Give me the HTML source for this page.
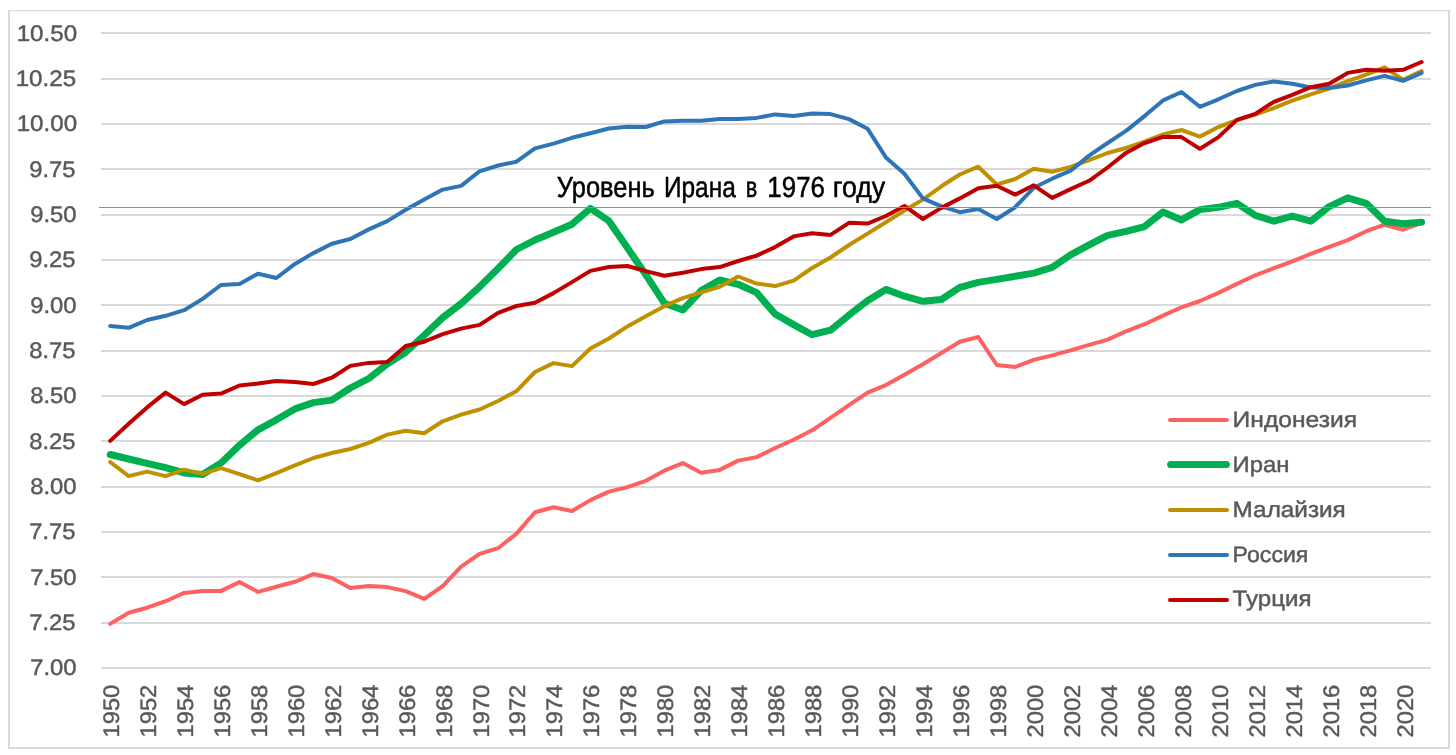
<!DOCTYPE html>
<html lang="ru"><head><meta charset="utf-8"><title>Уровень Ирана в 1976 году</title>
<style>
html,body{margin:0;padding:0;background:#fff;}
body{width:1456px;height:755px;overflow:hidden;font-family:"Liberation Sans", "DejaVu Sans", sans-serif;}
svg{display:block;}
text{font-family:"Liberation Sans", "DejaVu Sans", sans-serif;text-rendering:geometricPrecision;}
.ax{font-size:22.5px;fill:#595959;stroke:#595959;stroke-width:.45px;}
.lg{font-size:22.2px;fill:#595959;stroke:#595959;stroke-width:.45px;}
.note{font-size:29.1px;fill:#000;stroke:#000;stroke-width:.5px;}
.s{fill:none;stroke-linejoin:round;stroke-linecap:round;}
</style></head><body>
<svg width="1456" height="755" viewBox="0 0 1456 755">
<rect x="0" y="0" width="1456" height="755" fill="#fff"/>
<g fill="#d9d9d9">
<rect x="8" y="10" width="1442" height="1.2"/>
<rect x="8" y="747" width="1442" height="2"/>
<rect x="8" y="10" width="2" height="739"/>
<rect x="1448" y="10" width="2" height="739"/>
</g>

<g fill="#d9d9d9">
<rect x="101" y="32" width="1330" height="2"/>
<rect x="101" y="78" width="1330" height="2"/>
<rect x="101" y="123" width="1330" height="2"/>
<rect x="101" y="168" width="1330" height="2"/>
<rect x="101" y="214" width="1330" height="2"/>
<rect x="101" y="259" width="1330" height="2"/>
<rect x="101" y="304" width="1330" height="2"/>
<rect x="101" y="350" width="1330" height="2"/>
<rect x="101" y="395" width="1330" height="2"/>
<rect x="101" y="440" width="1330" height="2"/>
<rect x="101" y="486" width="1330" height="2"/>
<rect x="101" y="531" width="1330" height="2"/>
<rect x="101" y="576" width="1330" height="2"/>
<rect x="101" y="622" width="1330" height="2"/>
<rect x="101" y="667" width="1330" height="2"/>
</g>
<g class="ax" text-anchor="end">
<text x="77.1" y="40.7" textLength="60.4" lengthAdjust="spacingAndGlyphs">10.50</text>
<text x="76.1" y="86.0" textLength="60.4" lengthAdjust="spacingAndGlyphs">10.25</text>
<text x="77.1" y="131.3" textLength="60.4" lengthAdjust="spacingAndGlyphs">10.00</text>
<text x="75.5" y="176.7" textLength="46.3" lengthAdjust="spacingAndGlyphs">9.75</text>
<text x="76.5" y="222.0" textLength="46.3" lengthAdjust="spacingAndGlyphs">9.50</text>
<text x="75.5" y="267.3" textLength="46.3" lengthAdjust="spacingAndGlyphs">9.25</text>
<text x="76.5" y="312.6" textLength="46.3" lengthAdjust="spacingAndGlyphs">9.00</text>
<text x="75.5" y="357.9" textLength="46.3" lengthAdjust="spacingAndGlyphs">8.75</text>
<text x="76.5" y="403.3" textLength="46.3" lengthAdjust="spacingAndGlyphs">8.50</text>
<text x="75.5" y="448.6" textLength="46.3" lengthAdjust="spacingAndGlyphs">8.25</text>
<text x="76.5" y="493.9" textLength="46.3" lengthAdjust="spacingAndGlyphs">8.00</text>
<text x="75.5" y="539.2" textLength="46.3" lengthAdjust="spacingAndGlyphs">7.75</text>
<text x="76.5" y="584.5" textLength="46.3" lengthAdjust="spacingAndGlyphs">7.50</text>
<text x="75.5" y="629.9" textLength="46.3" lengthAdjust="spacingAndGlyphs">7.25</text>
<text x="76.5" y="675.2" textLength="46.3" lengthAdjust="spacingAndGlyphs">7.00</text>
</g>
<g class="ax" text-anchor="end">
<text transform="translate(118.9,684.7) rotate(-90)" textLength="52.8" lengthAdjust="spacingAndGlyphs">1950</text>
<text transform="translate(155.8,684.7) rotate(-90)" textLength="52.8" lengthAdjust="spacingAndGlyphs">1952</text>
<text transform="translate(192.8,684.7) rotate(-90)" textLength="52.8" lengthAdjust="spacingAndGlyphs">1954</text>
<text transform="translate(229.7,684.7) rotate(-90)" textLength="52.8" lengthAdjust="spacingAndGlyphs">1956</text>
<text transform="translate(266.7,684.7) rotate(-90)" textLength="52.8" lengthAdjust="spacingAndGlyphs">1958</text>
<text transform="translate(303.7,684.7) rotate(-90)" textLength="52.8" lengthAdjust="spacingAndGlyphs">1960</text>
<text transform="translate(340.6,684.7) rotate(-90)" textLength="52.8" lengthAdjust="spacingAndGlyphs">1962</text>
<text transform="translate(377.6,684.7) rotate(-90)" textLength="52.8" lengthAdjust="spacingAndGlyphs">1964</text>
<text transform="translate(414.5,684.7) rotate(-90)" textLength="52.8" lengthAdjust="spacingAndGlyphs">1966</text>
<text transform="translate(451.5,684.7) rotate(-90)" textLength="52.8" lengthAdjust="spacingAndGlyphs">1968</text>
<text transform="translate(488.5,684.7) rotate(-90)" textLength="52.8" lengthAdjust="spacingAndGlyphs">1970</text>
<text transform="translate(525.4,684.7) rotate(-90)" textLength="52.8" lengthAdjust="spacingAndGlyphs">1972</text>
<text transform="translate(562.4,684.7) rotate(-90)" textLength="52.8" lengthAdjust="spacingAndGlyphs">1974</text>
<text transform="translate(599.4,684.7) rotate(-90)" textLength="52.8" lengthAdjust="spacingAndGlyphs">1976</text>
<text transform="translate(636.3,684.7) rotate(-90)" textLength="52.8" lengthAdjust="spacingAndGlyphs">1978</text>
<text transform="translate(673.3,684.7) rotate(-90)" textLength="52.8" lengthAdjust="spacingAndGlyphs">1980</text>
<text transform="translate(710.2,684.7) rotate(-90)" textLength="52.8" lengthAdjust="spacingAndGlyphs">1982</text>
<text transform="translate(747.2,684.7) rotate(-90)" textLength="52.8" lengthAdjust="spacingAndGlyphs">1984</text>
<text transform="translate(784.2,684.7) rotate(-90)" textLength="52.8" lengthAdjust="spacingAndGlyphs">1986</text>
<text transform="translate(821.1,684.7) rotate(-90)" textLength="52.8" lengthAdjust="spacingAndGlyphs">1988</text>
<text transform="translate(858.1,684.7) rotate(-90)" textLength="52.8" lengthAdjust="spacingAndGlyphs">1990</text>
<text transform="translate(895.1,684.7) rotate(-90)" textLength="52.8" lengthAdjust="spacingAndGlyphs">1992</text>
<text transform="translate(932.0,684.7) rotate(-90)" textLength="52.8" lengthAdjust="spacingAndGlyphs">1994</text>
<text transform="translate(969.0,684.7) rotate(-90)" textLength="52.8" lengthAdjust="spacingAndGlyphs">1996</text>
<text transform="translate(1005.9,684.7) rotate(-90)" textLength="52.8" lengthAdjust="spacingAndGlyphs">1998</text>
<text transform="translate(1042.9,684.7) rotate(-90)" textLength="52.8" lengthAdjust="spacingAndGlyphs">2000</text>
<text transform="translate(1079.9,684.7) rotate(-90)" textLength="52.8" lengthAdjust="spacingAndGlyphs">2002</text>
<text transform="translate(1116.8,684.7) rotate(-90)" textLength="52.8" lengthAdjust="spacingAndGlyphs">2004</text>
<text transform="translate(1153.8,684.7) rotate(-90)" textLength="52.8" lengthAdjust="spacingAndGlyphs">2006</text>
<text transform="translate(1190.7,684.7) rotate(-90)" textLength="52.8" lengthAdjust="spacingAndGlyphs">2008</text>
<text transform="translate(1227.7,684.7) rotate(-90)" textLength="52.8" lengthAdjust="spacingAndGlyphs">2010</text>
<text transform="translate(1264.7,684.7) rotate(-90)" textLength="52.8" lengthAdjust="spacingAndGlyphs">2012</text>
<text transform="translate(1301.6,684.7) rotate(-90)" textLength="52.8" lengthAdjust="spacingAndGlyphs">2014</text>
<text transform="translate(1338.6,684.7) rotate(-90)" textLength="52.8" lengthAdjust="spacingAndGlyphs">2016</text>
<text transform="translate(1375.6,684.7) rotate(-90)" textLength="52.8" lengthAdjust="spacingAndGlyphs">2018</text>
<text transform="translate(1412.5,684.7) rotate(-90)" textLength="52.8" lengthAdjust="spacingAndGlyphs">2020</text>
</g>
<polyline class="s" stroke="#ff6161" stroke-width="4" points="110.2,623.9 128.7,612.8 147.1,607.7 165.6,601.2 184.1,592.9 202.6,590.9 221.0,590.9 239.5,582.1 258.0,591.9 276.4,586.8 294.9,581.8 313.4,574.0 331.8,578.0 350.3,587.9 368.8,586.1 387.2,587.1 405.7,591.1 424.2,598.9 442.7,586.1 461.1,566.7 479.6,553.8 498.1,548.2 516.5,533.6 535.0,512.2 553.5,507.2 572.0,511.0 590.4,500.1 608.9,491.6 627.4,487.1 645.8,480.8 664.3,470.7 682.8,463.1 701.2,472.7 719.7,469.9 738.2,460.6 756.6,457.1 775.1,448.0 793.6,439.7 812.1,430.3 830.5,417.8 849.0,405.2 867.5,392.6 885.9,385.1 904.4,374.7 922.9,364.3 941.4,353.0 959.8,341.8 978.3,337.0 996.8,365.0 1015.2,367.0 1033.7,359.9 1052.2,355.4 1070.6,350.4 1089.1,344.8 1107.6,339.6 1126.0,331.3 1144.5,324.2 1163.0,315.6 1181.5,307.3 1199.9,301.0 1218.4,292.9 1236.9,283.9 1255.3,275.3 1273.8,268.2 1292.3,261.4 1310.8,253.9 1329.2,246.8 1347.7,240.1 1366.2,231.2 1384.6,224.7 1403.1,229.7 1421.6,222.9"/>
<polyline class="s" stroke="#00b050" stroke-width="7" points="110.2,454.5 128.7,459.0 147.1,463.3 165.6,467.6 184.1,472.9 202.6,474.4 221.0,463.1 239.5,445.2 258.0,429.8 276.4,419.8 294.9,408.9 313.4,402.6 331.8,400.1 350.3,388.0 368.8,378.5 387.2,364.1 405.7,352.3 424.2,335.2 442.7,317.6 461.1,303.6 479.6,286.8 498.1,268.5 516.5,249.5 535.0,240.0 553.5,232.2 572.0,224.2 590.4,208.4 608.9,220.9 627.4,247.8 645.8,274.8 664.3,303.2 682.8,310.0 701.2,290.6 719.7,280.0 738.2,284.3 756.6,292.6 775.1,314.0 793.6,324.6 812.1,334.7 830.5,330.2 849.0,315.1 867.5,300.8 885.9,289.4 904.4,296.2 922.9,301.3 941.4,299.5 959.8,287.4 978.3,282.4 996.8,279.4 1015.2,276.3 1033.7,273.1 1052.2,267.3 1070.6,254.9 1089.1,244.9 1107.6,235.4 1126.0,231.3 1144.5,226.6 1163.0,212.1 1181.5,219.9 1199.9,209.6 1218.4,207.3 1236.9,203.3 1255.3,215.4 1273.8,221.2 1292.3,216.1 1310.8,221.2 1329.2,206.6 1347.7,197.8 1366.2,203.3 1384.6,221.2 1403.1,223.7 1421.6,222.2"/>
<polyline class="s" stroke="#bf9000" stroke-width="4" points="110.2,462.0 128.7,476.1 147.1,471.6 165.6,476.1 184.1,469.6 202.6,473.9 221.0,468.1 239.5,474.1 258.0,480.4 276.4,473.1 294.9,465.3 313.4,458.0 331.8,453.0 350.3,449.0 368.8,442.9 387.2,434.6 405.7,430.8 424.2,433.3 442.7,421.3 461.1,414.6 479.6,409.5 498.1,401.0 516.5,391.1 535.0,372.0 553.5,363.1 572.0,366.1 590.4,348.5 608.9,338.5 627.4,326.4 645.8,316.3 664.3,306.2 682.8,298.2 701.2,292.4 719.7,286.8 738.2,276.5 756.6,283.6 775.1,286.1 793.6,280.6 812.1,268.0 830.5,257.5 849.0,245.0 867.5,233.6 885.9,222.3 904.4,210.5 922.9,199.6 941.4,186.3 959.8,174.5 978.3,166.7 996.8,184.5 1015.2,179.0 1033.7,168.7 1052.2,171.7 1070.6,166.9 1089.1,160.1 1107.6,153.0 1126.0,148.0 1144.5,141.6 1163.0,134.4 1181.5,130.0 1199.9,136.6 1218.4,127.0 1236.9,120.2 1255.3,114.7 1273.8,108.1 1292.3,100.6 1310.8,94.3 1329.2,88.5 1347.7,81.2 1366.2,74.6 1384.6,67.3 1403.1,79.9 1421.6,71.1"/>
<polyline class="s" stroke="#2e75b6" stroke-width="4" points="110.2,326.1 128.7,327.8 147.1,320.0 165.6,315.8 184.1,310.2 202.6,298.9 221.0,285.0 239.5,284.0 258.0,273.7 276.4,278.0 294.9,263.9 313.4,253.1 331.8,243.8 350.3,239.0 368.8,229.4 387.2,221.1 405.7,209.8 424.2,199.5 442.7,189.6 461.1,185.9 479.6,171.3 498.1,165.5 516.5,161.7 535.0,148.4 553.5,143.6 572.0,137.8 590.4,133.3 608.9,128.5 627.4,126.7 645.8,127.0 664.3,121.4 682.8,120.7 701.2,120.7 719.7,118.9 738.2,118.9 756.6,117.9 775.1,114.4 793.6,115.9 812.1,113.6 830.5,114.1 849.0,119.1 867.5,128.7 885.9,157.4 904.4,173.7 922.9,198.4 941.4,206.4 959.8,212.2 978.3,209.0 996.8,219.0 1015.2,207.2 1033.7,187.8 1052.2,178.7 1070.6,170.7 1089.1,155.6 1107.6,143.0 1126.0,130.9 1144.5,116.1 1163.0,100.4 1181.5,92.0 1199.9,106.8 1218.4,99.3 1236.9,91.0 1255.3,84.9 1273.8,81.4 1292.3,83.7 1310.8,87.5 1329.2,88.0 1347.7,85.5 1366.2,80.4 1384.6,75.9 1403.1,80.9 1421.6,72.9"/>
<polyline class="s" stroke="#c00000" stroke-width="4" points="110.2,440.9 128.7,423.8 147.1,407.4 165.6,392.6 184.1,404.1 202.6,394.8 221.0,393.6 239.5,385.5 258.0,383.5 276.4,381.0 294.9,382.0 313.4,384.0 331.8,377.7 350.3,365.9 368.8,362.9 387.2,361.9 405.7,346.0 424.2,341.7 442.7,334.2 461.1,328.6 479.6,324.9 498.1,312.8 516.5,306.0 535.0,302.7 553.5,293.1 572.0,282.1 590.4,270.9 608.9,267.0 627.4,266.0 645.8,271.1 664.3,275.8 682.8,272.8 701.2,269.1 719.7,267.1 738.2,261.0 756.6,255.6 775.1,247.1 793.6,236.4 812.1,233.3 830.5,234.9 849.0,222.8 867.5,223.6 885.9,216.0 904.4,205.9 922.9,219.0 941.4,207.9 959.8,198.4 978.3,188.3 996.8,185.8 1015.2,194.6 1033.7,185.3 1052.2,197.9 1070.6,189.1 1089.1,180.8 1107.6,167.5 1126.0,152.9 1144.5,143.1 1163.0,136.9 1181.5,137.1 1199.9,148.9 1218.4,137.1 1236.9,119.9 1255.3,113.9 1273.8,101.8 1292.3,94.8 1310.8,87.2 1329.2,83.7 1347.7,72.9 1366.2,69.8 1384.6,70.8 1403.1,69.8 1421.6,62.0"/>
<rect x="99" y="207" width="1332" height="1" fill="#70ad47"/>
<text class="note" y="197.3"><tspan x="556.85" textLength="97.79" lengthAdjust="spacingAndGlyphs">Уровень</tspan> <tspan x="663.9" textLength="71.84" lengthAdjust="spacingAndGlyphs">Ирана</tspan> <tspan x="745.75" textLength="11.56" lengthAdjust="spacingAndGlyphs">в</tspan> <tspan x="767.3" textLength="57.67" lengthAdjust="spacingAndGlyphs">1976</tspan> <tspan x="832.75" textLength="52.49" lengthAdjust="spacingAndGlyphs">году</tspan></text>
<line class="s" x1="1170" x2="1227" y1="420.0" y2="420.0" stroke="#ff6161" stroke-width="4"/>
<text class="lg" x="1232.6" y="426.5" textLength="124.6" lengthAdjust="spacingAndGlyphs">Индонезия</text>
<line class="s" x1="1170.6" x2="1226.4" y1="464.5" y2="464.5" stroke="#00b050" stroke-width="7"/>
<text class="lg" x="1232.6" y="471.5" textLength="56.9" lengthAdjust="spacingAndGlyphs">Иран</text>
<line class="s" x1="1170" x2="1227" y1="510.0" y2="510.0" stroke="#bf9000" stroke-width="4"/>
<text class="lg" x="1232.6" y="516.5" textLength="113.2" lengthAdjust="spacingAndGlyphs">Малайзия</text>
<line class="s" x1="1170" x2="1227" y1="555.0" y2="555.0" stroke="#2e75b6" stroke-width="4"/>
<text class="lg" x="1232.6" y="561.5" textLength="75.8" lengthAdjust="spacingAndGlyphs">Россия</text>
<line class="s" x1="1170" x2="1227" y1="600.0" y2="600.0" stroke="#c00000" stroke-width="4"/>
<text class="lg" x="1232.6" y="606.2" textLength="78.9" lengthAdjust="spacingAndGlyphs">Турция</text>
</svg></body></html>
